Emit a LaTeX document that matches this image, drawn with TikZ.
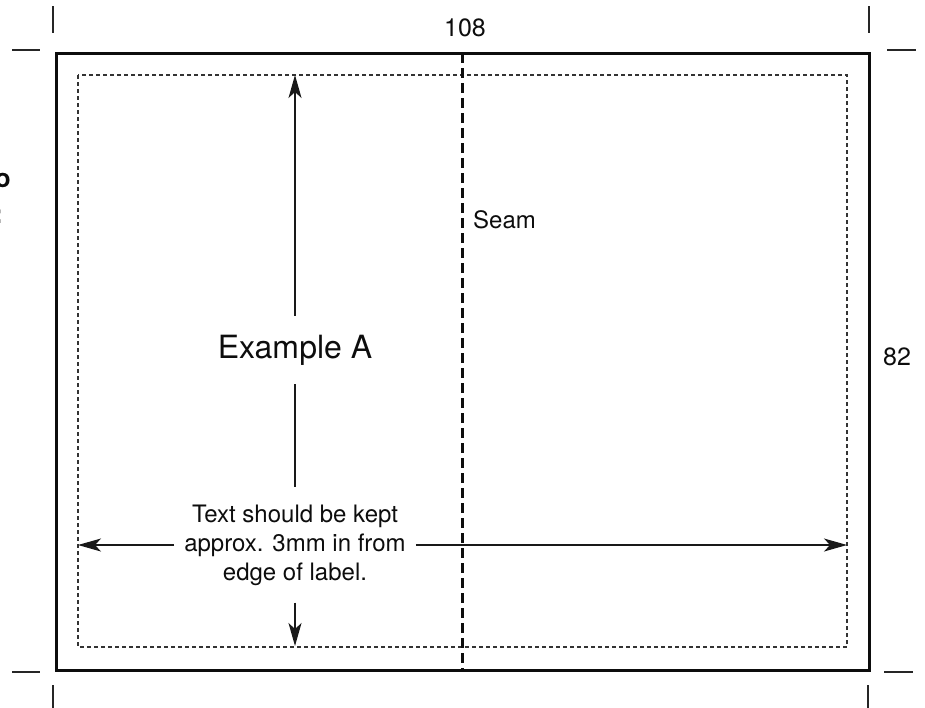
\documentclass[tikz,border=0pt]{standalone}
\usepackage{fontspec}
\setmainfont{TeX Gyre Heros}
\usetikzlibrary{arrows.meta}

\begin{document}
\begin{tikzpicture}[x=1pt, y=-1pt,
		arr/.style={-{Stealth[length=23pt,width=13pt,inset=6pt]}, line width=1.1pt, black!90},
		crop/.style={line width=1.5pt, black!85},
		lbl/.style={font=\fontsize{24}{29}\selectfont, text=black!95, inner sep=0pt}]
		\useasboundingbox (0,0) rectangle (925,707);
		% label outline, safe area and seam
		\coordinate (o1)at(56,53);
		\coordinate (o2)at(869,670);
		\coordinate (i1)at(78,75);
		\coordinate (i2)at(847,647);
		\coordinate (s1)at(462,53);
		\coordinate (s2)at(462,672);
		\draw[line width=3pt, black!95] (o1) rectangle (o2);
		\draw[line width=1.2pt, black!80, dash pattern=on 4pt off 3pt] (i1) rectangle (i2);
		\draw[line width=3pt, black!95, dash pattern=on 10pt off 5pt] (s1) -- (s2);
		% crop marks
		\draw[crop] (53,6) -- (53,33);
		\draw[crop] (12,50) -- (40,50);
		\draw[crop] (869,6) -- (869,33);
		\draw[crop] (887,50) -- (916,50);
		\draw[crop] (12,672) -- (40,672);
		\draw[crop] (53,685) -- (53,710);
		\draw[crop] (884,672) -- (913,672);
		\draw[crop] (868,685) -- (868,710);
		% sizes
		\node[lbl, font=\fontsize{25}{30}\selectfont] (w)at(465,28) {108};
		\node[lbl, font=\fontsize{25}{30}\selectfont] (h)at(897,357) {82};
		\node[lbl, anchor=base west] (seam)at(473,228) {Seam};
		% cut off text at the left edge
		\node[lbl, font=\fontsize{26}{30}\selectfont\bfseries, anchor=base east] (cut1)at(11,187) {o};
		\node[lbl, font=\fontsize{26}{30}\selectfont\bfseries, anchor=base east] (cut2)at(3,223) {:};
		% texts with arrows
		\node[lbl, font=\fontsize{32}{38}\selectfont, inner ysep=19pt] (ex)at(295,350) {Example A};
		\node[lbl, align=center, inner xsep=10pt, inner ysep=17pt] (txt)at(295,545) {Text should be kept\\approx. 3mm in from\\edge of label.};
		\coordinate (top)at(295,75);
		\coordinate (bot)at(295,646);
		\coordinate (lft)at(78,545);
		\coordinate (rgt)at(847,545);
		\draw[arr] (ex) -- (top);
		\draw[line width=1.1pt, black!90] (ex) -- (txt);
		\draw[arr] (txt) -- (bot);
		\draw[arr] (txt) -- (lft);
		\draw[arr] (txt) -- (rgt);
\end{tikzpicture}
\end{document}
